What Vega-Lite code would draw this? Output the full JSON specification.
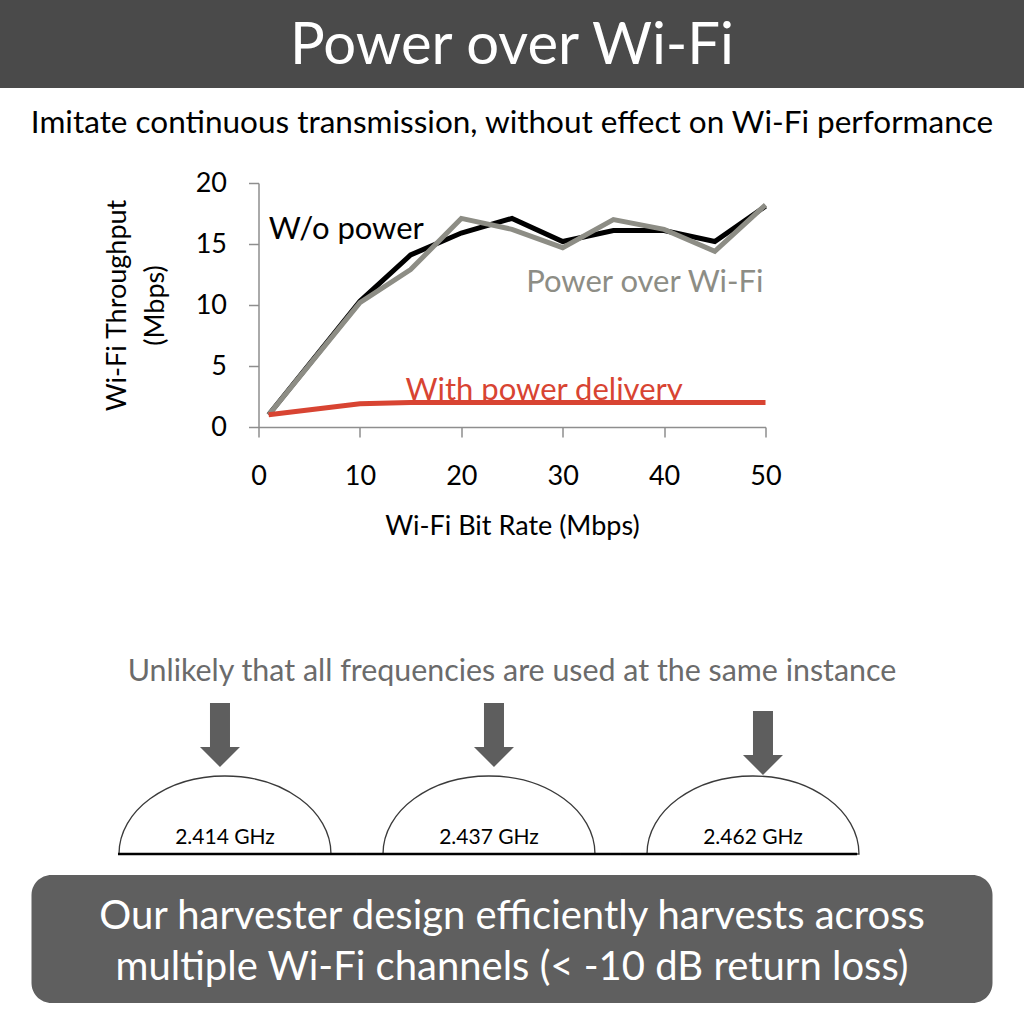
{
  "$schema": "https://vega.github.io/schema/vega-lite/v6.json",
  "description": "Power over Wi-Fi slide: throughput vs bit rate, plus the channel sketch.",
  "background": "white",
  "padding": 0,
  "spacing": 0,
  "bounds": "flush",
  "center": true,
  "config": {
    "font": "Lato",
    "view": {"stroke": null},
    "axis": {
      "grid": false,
      "domainColor": "#8e8e8e",
      "tickColor": "#8e8e8e",
      "domainWidth": 1.5,
      "tickWidth": 1.5,
      "tickSize": 10,
      "labelFlush": false,
      "labelFontSize": 27,
      "labelColor": "#000",
      "titleFontSize": 27,
      "titleFontWeight": "normal",
      "titleColor": "#000"
    }
  },
  "datasets": {
    "throughput": [
      {"series": "W/o power", "rate": 1, "mbps": 1.0},
      {"series": "W/o power", "rate": 10, "mbps": 10.3},
      {"series": "W/o power", "rate": 15, "mbps": 14.1},
      {"series": "W/o power", "rate": 20, "mbps": 15.9},
      {"series": "W/o power", "rate": 25, "mbps": 17.1},
      {"series": "W/o power", "rate": 30, "mbps": 15.2},
      {"series": "W/o power", "rate": 35, "mbps": 16.1},
      {"series": "W/o power", "rate": 40, "mbps": 16.1},
      {"series": "W/o power", "rate": 45, "mbps": 15.2},
      {"series": "W/o power", "rate": 50, "mbps": 18.1},
      {"series": "Power over Wi-Fi", "rate": 1, "mbps": 1.0},
      {"series": "Power over Wi-Fi", "rate": 10, "mbps": 10.2},
      {"series": "Power over Wi-Fi", "rate": 15, "mbps": 12.9},
      {"series": "Power over Wi-Fi", "rate": 20, "mbps": 17.1},
      {"series": "Power over Wi-Fi", "rate": 25, "mbps": 16.2},
      {"series": "Power over Wi-Fi", "rate": 30, "mbps": 14.7},
      {"series": "Power over Wi-Fi", "rate": 35, "mbps": 17.0},
      {"series": "Power over Wi-Fi", "rate": 40, "mbps": 16.2},
      {"series": "Power over Wi-Fi", "rate": 45, "mbps": 14.4},
      {"series": "Power over Wi-Fi", "rate": 50, "mbps": 18.2},
      {"series": "With power delivery", "rate": 1, "mbps": 1.0},
      {"series": "With power delivery", "rate": 10, "mbps": 1.9},
      {"series": "With power delivery", "rate": 15, "mbps": 2.0},
      {"series": "With power delivery", "rate": 20, "mbps": 2.0},
      {"series": "With power delivery", "rate": 25, "mbps": 2.0},
      {"series": "With power delivery", "rate": 30, "mbps": 2.0},
      {"series": "With power delivery", "rate": 35, "mbps": 2.0},
      {"series": "With power delivery", "rate": 40, "mbps": 2.0},
      {"series": "With power delivery", "rate": 45, "mbps": 2.0},
      {"series": "With power delivery", "rate": 50, "mbps": 2.0}
    ],
    "labels": [
      {"series": "W/o power", "rate": 1.0, "mbps": 15.45},
      {"series": "Power over Wi-Fi", "rate": 26.4, "mbps": 11.04},
      {"series": "With power delivery", "rate": 14.5, "mbps": 2.25}
    ],
    "channels": [
      {"channel": "2.414 GHz"},
      {"channel": "2.437 GHz"},
      {"channel": "2.462 GHz"}
    ]
  },
  "vconcat": [
    {
      "width": 1024,
      "height": 88,
      "data": {"values": [{"text": "Power over Wi-Fi"}]},
      "layer": [
        {"mark": {"type": "rect", "fill": "#4a4a4a"}},
        {
          "mark": {"type": "text", "color": "white", "fontSize": 58, "baseline": "middle", "dy": 3},
          "encoding": {"text": {"field": "text"}}
        }
      ]
    },
    {
      "width": 1024,
      "height": 95,
      "data": {"values": [{"text": "Imitate continuous transmission, without effect on Wi-Fi performance"}]},
      "mark": {"type": "text", "color": "#000", "fontSize": 31.5, "baseline": "middle", "dy": -12},
      "encoding": {"text": {"field": "text"}}
    },
    {
      "width": 507,
      "height": 244,
      "layer": [
        {
          "data": {"name": "throughput"},
          "mark": {"type": "line", "strokeWidth": 5},
          "encoding": {
            "x": {
              "field": "rate", "type": "quantitative",
              "scale": {"domain": [0, 50], "nice": false},
              "axis": {"values": [0, 10, 20, 30, 40, 50], "labelPadding": 26, "titlePadding": 24, "title": "Wi-Fi Bit Rate (Mbps)"}
            },
            "y": {
              "field": "mbps", "type": "quantitative",
              "scale": {"domain": [0, 20], "nice": false},
              "axis": {"values": [0, 5, 10, 15, 20], "labelPadding": 22, "titlePadding": 26, "titleLineHeight": 38, "title": ["Wi-Fi Throughput", "(Mbps)"]}
            },
            "color": {
              "field": "series", "type": "nominal",
              "scale": {"domain": ["W/o power", "Power over Wi-Fi", "With power delivery"], "range": ["#000000", "#8d8d85", "#d84432"]},
              "legend": null
            }
          }
        },
        {
          "data": {"name": "labels"},
          "mark": {"type": "text", "align": "left", "baseline": "alphabetic", "fontSize": 31},
          "encoding": {
            "x": {"field": "rate", "type": "quantitative"},
            "y": {"field": "mbps", "type": "quantitative"},
            "text": {"field": "series"},
            "color": {"field": "series", "type": "nominal", "legend": null}
          }
        }
      ]
    },
    {
      "width": 1024,
      "height": 448,
      "layer": [
        {
          "data": {"values": [{"note": "Unlikely that all frequencies are used at the same instance"}]},
          "mark": {"type": "text", "y": "height", "dy": -203, "baseline": "middle", "fontSize": 30.4, "color": "#6b6b6b"},
          "encoding": {"text": {"field": "note"}}
        },
        {
          "data": {"name": "channels"},
          "mark": {"type": "point", "y": "height", "size": 4, "filled": true, "fill": "#5e5e5e", "opacity": 1, "strokeWidth": 0},
          "encoding": {
            "x": {"field": "channel", "type": "ordinal", "scale": {"type": "point", "padding": 0.9394, "align": 0.4536}, "axis": null},
            "shape": {
              "field": "channel", "type": "nominal", "legend": null,
              "scale": {"range": [
                "M -15 -172 L 5 -172 L 5 -128 L 15 -128 L -5 -108 L -25 -128 L -15 -128 Z",
                "M -5 -172 L 15 -172 L 15 -128 L 25 -128 L 5 -108 L -15 -128 L -5 -128 Z",
                "M 0 -164 L 20 -164 L 20 -120 L 30 -120 L 10 -100 L -10 -120 L 0 -120 Z"
              ]}
            }
          }
        },
        {
          "data": {"name": "channels"},
          "mark": {"type": "point", "y": "height", "size": 4, "filled": false, "fill": "white", "fillOpacity": 1, "stroke": "#3a3a3a", "strokeWidth": 1.3, "opacity": 1},
          "encoding": {
            "x": {"field": "channel", "type": "ordinal"},
            "shape": {"value": "M -106 -21 A 106 78 0 0 1 106 -21 Z"}
          }
        },
        {
          "data": {"name": "channels"},
          "mark": {"type": "point", "y": "height", "size": 4, "filled": false, "stroke": "#000", "strokeWidth": 2.5, "opacity": 1},
          "encoding": {
            "x": {"field": "channel", "type": "ordinal"},
            "shape": {
              "field": "channel", "type": "nominal", "legend": null,
              "scale": {"range": [
                "M -107 -21 L 132 -21",
                "M -132 -21 L 132 -21",
                "M -132 -21 L 104 -21"
              ]}
            }
          }
        },
        {
          "data": {"name": "channels"},
          "mark": {"type": "text", "y": "height", "dy": -37, "baseline": "middle", "fontSize": 21, "color": "#000"},
          "encoding": {
            "x": {"field": "channel", "type": "ordinal"},
            "text": {"field": "channel"}
          }
        }
      ],
      "resolve": {"scale": {"shape": "independent"}}
    },
    {
      "width": 961,
      "height": 128,
      "data": {"values": [{"text": "Our harvester design efficiently harvests across\nmultiple Wi-Fi channels (< -10 dB return loss)"}]},
      "layer": [
        {"mark": {"type": "rect", "fill": "#5f5f5f", "cornerRadius": 20}},
        {
          "mark": {"type": "text", "color": "white", "fontSize": 40, "baseline": "middle", "lineBreak": "\n", "lineHeight": 51, "dy": -22},
          "encoding": {"text": {"field": "text"}}
        }
      ]
    }
  ]
}
